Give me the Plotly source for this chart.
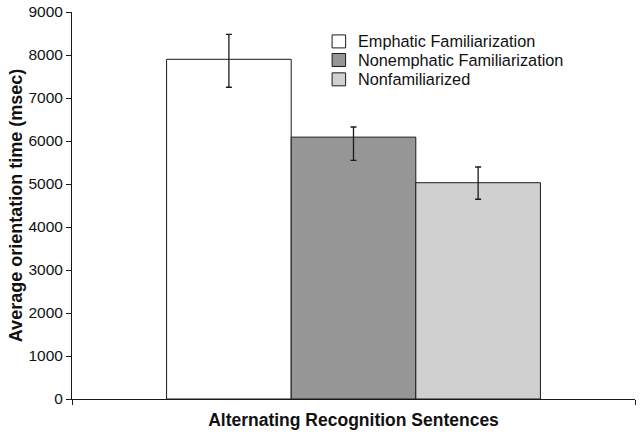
import plotly.graph_objects as go

category = ["Alternating Recognition Sentences"]
series_names = ["Emphatic Familiarization", "Nonemphatic Familiarization", "Nonfamiliarized"]
means = [7900, 6090, 5030]
err_upper = [8480, 6325, 5395]
err_lower = [7250, 5550, 4645]
colors = ["#ffffff", "#969696", "#d0d0d0"]

fig = go.Figure()
for name, m, hi, lo, c in zip(series_names, means, err_upper, err_lower, colors):
    fig.add_trace(go.Bar(
        x=category, y=[m], name=name, showlegend=False,
        marker=dict(color=c, line=dict(color="#1a1a1a", width=1)),
        error_y=dict(type="data", symmetric=False, array=[hi - m], arrayminus=[m - lo],
                     color="#1a1a1a", thickness=1.3, width=3),
    ))

# manual legend (squares + labels), matching the reference's compact spacing
leg_rows = [0.924, 0.876, 0.826]
for name, c, yc in zip(series_names, colors, leg_rows):
    fig.add_shape(type="rect", xref="paper", yref="paper",
                  x0=0.462, x1=0.486, y0=yc - 0.0168, y1=yc + 0.0168,
                  fillcolor=c, line=dict(color="#1a1a1a", width=1))
    fig.add_annotation(text=name, xref="paper", yref="paper", x=0.505, y=yc,
                       xanchor="left", yanchor="middle", showarrow=False,
                       font=dict(size=16.3, color="#111111"))

fig.update_layout(
    width=642, height=434,
    margin=dict(l=72, r=7, t=12, b=35),
    paper_bgcolor="white", plot_bgcolor="white",
    barmode="group", bargap=0.336, bargroupgap=0,
    font=dict(family="Liberation Sans, Arial, sans-serif", color="#111111", size=15),
)
fig.update_xaxes(
    automargin=False,
    showline=True, linecolor="#1a1a1a", linewidth=1,
    ticks="outside", tickson="boundaries", ticklen=5, tickcolor="#1a1a1a",
    showticklabels=False, range=[-0.5, 0.5],
    title=dict(text="<b>Alternating Recognition Sentences</b>", font=dict(size=17.5), standoff=14),
)
fig.update_yaxes(
    automargin=False,
    range=[0, 9000], dtick=1000, showgrid=False, zeroline=False,
    showline=True, linecolor="#1a1a1a", linewidth=1,
    ticks="outside", ticklen=5, tickcolor="#1a1a1a",
    tickfont=dict(size=15.5),
    title=dict(text="<b>Average orientation time (msec)</b>", font=dict(size=18), standoff=1),
)

# remove the default page margin so the figure fills the window exactly
fig.write_html("out.html", config={"displayModeBar": False},
               post_script="document.body.style.margin='0';")
